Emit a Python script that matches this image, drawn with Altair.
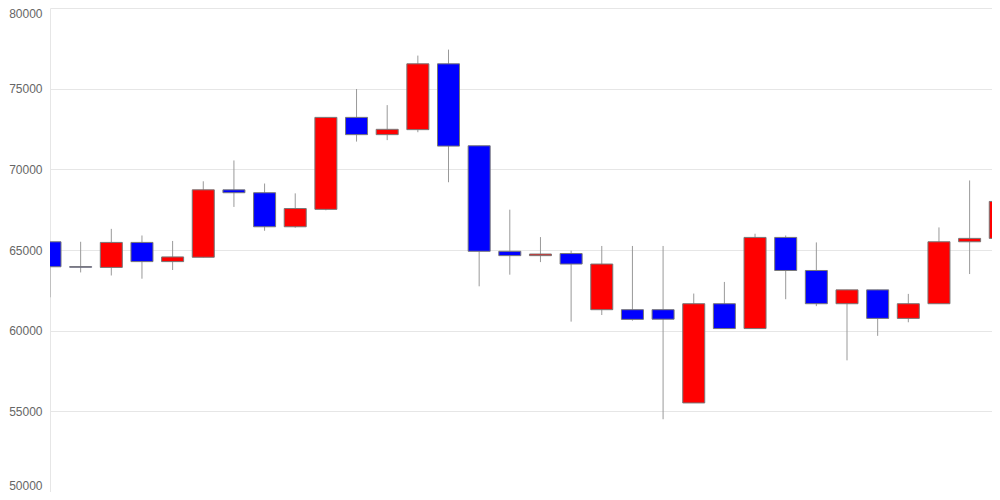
import altair as alt
import pandas as pd

opens  = [65510, 63970, 63920, 65470, 64280, 64550, 68730, 68550, 66440, 67520,
          73220, 72150, 72460, 76540, 71460, 64920, 64650, 64780, 61300, 61300,
          61300, 55520, 61670, 60130, 65780, 63730, 61670, 62530, 60760, 61670,
          65510, 65720]
highs  = [65510, 65510, 66310, 65900, 65560, 69260, 70550, 69120, 68510, 73220,
          74980, 73980, 77050, 77420, 71460, 67500, 65800, 64960, 65250, 65250,
          65250, 62300, 63020, 66010, 65900, 65470, 62530, 62530, 62280, 66400,
          69310, 71520]
lows   = [62070, 63610, 63420, 63220, 63760, 64540, 67670, 66190, 66380, 67460,
          71720, 71810, 72300, 69200, 62750, 63470, 64250, 60560, 60970, 60620,
          54510, 55520, 60130, 60130, 61950, 61520, 58160, 59680, 60520, 61670,
          63510, 65700]
closes = [63960, 63930, 65470, 64280, 64570, 68730, 68550, 66440, 67570, 73220,
          72150, 72480, 76540, 71440, 64920, 64650, 64750, 64130, 64130, 60700,
          60710, 61670, 60130, 65780, 63730, 61670, 62530, 60760, 61670, 65510,
          65720, 68010]

df = pd.DataFrame({
    "i": list(range(len(opens))),
    "open": opens, "high": highs, "low": lows, "close": closes,
})
df["dir"] = ["up" if c >= o else "down" for o, c in zip(opens, closes)]

xscale = alt.Scale(domain=[0, 30.73], nice=False, zero=False, padding=0)
yscale = alt.Scale(domain=[50000, 80000], nice=False, zero=False)

base = alt.Chart(df).encode(
    x=alt.X("i:Q", scale=xscale, axis=None),
)

wick = base.mark_rule(color="#999999", strokeWidth=1, clip=True).encode(
    y=alt.Y("low:Q", scale=yscale,
            axis=alt.Axis(values=[50000, 55000, 60000, 65000, 70000, 75000, 80000],
                          format="d", title=None, ticks=False, labelPadding=8,
                          labelFlush=True, labelColor="#666666", labelFontSize=12,
                          labelFont="Liberation Sans", grid=True, gridColor="#e6e6e6",
                          domain=True, domainColor="#e6e6e6")),
    y2="high:Q",
)

body = base.mark_bar(size=22, stroke="#777777", strokeWidth=1, clip=True).encode(
    y=alt.Y("open:Q", scale=yscale),
    y2="close:Q",
    color=alt.Color("dir:N", scale=alt.Scale(domain=["up", "down"], range=["#ff0000", "#0000ff"]),
                    legend=None),
)

chart = alt.layer(wick, body).properties(
    width=942, height=484,
    autosize=alt.AutoSizeParams(type="none"),
    padding={"left": 42, "top": 0, "right": 0, "bottom": 0},
).configure_view(stroke=None)

chart.save("out.html", embed_options={"renderer": "svg", "actions": False})
